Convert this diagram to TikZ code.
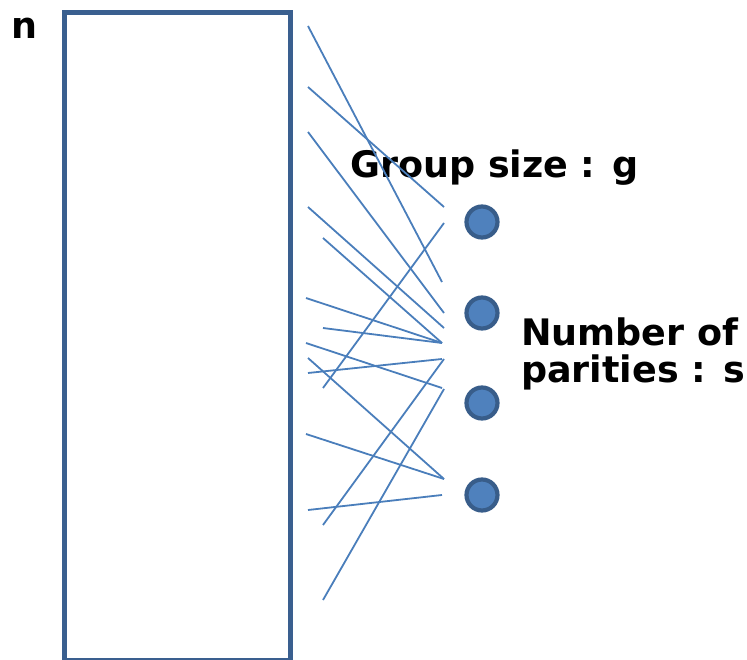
\documentclass[tikz,border=0pt]{standalone}
\usepackage{fontspec}
\setmainfont{DejaVu Sans}
\definecolor{frameblue}{HTML}{3A5F8F}
\definecolor{wireblue}{HTML}{4A7EBB}
\definecolor{dotfill}{HTML}{4F81BD}
\definecolor{dotedge}{HTML}{385D8A}
\begin{document}
\begin{tikzpicture}[x=1pt,y=-1pt,
  label text/.style={inner sep=0pt, anchor=base west,
    font=\fontsize{36.5}{36.5}\selectfont\bfseries},
  parity/.style={circle, draw=dotedge, fill=dotfill, line width=4.2pt,
    minimum size=31pt, inner sep=0pt},
  wire/.style={draw=wireblue, line width=1.8pt},
  frame/.style={draw=frameblue, line width=5pt, inner sep=0pt,
    minimum width=226.5pt, minimum height=648pt}]
\useasboundingbox (0,0) rectangle (747,660);

% the n-bit block
\node[frame] (block) at (177.25,336.5) {};
\node[label text] (nlab) at (11.6,38.3) {n};

% parity nodes
\node[parity] (p1) at (482,222) {};
\node[parity] (p2) at (482,313) {};
\node[parity] (p3) at (482,403) {};
\node[parity] (p4) at (482,495) {};

\node[label text] (glab) at (350,178) {Group size : g};
\node[label text] (slab1) at (521,345) {Number of};
\node[label text] (slab2) at (521,382) {parities : s};

% wire ends on the block side
\coordinate (a1) at (308,26);
\coordinate (a2) at (308,87);
\coordinate (a3) at (308,132);
\coordinate (a4) at (308,207);
\coordinate (a5) at (323,238);
\coordinate (a6) at (306,298);
\coordinate (a7) at (323,328);
\coordinate (a8) at (306,343);
\coordinate (a9) at (308,358);
\coordinate (a10) at (308,373);
\coordinate (a11) at (323,388);
\coordinate (a12) at (323,525);
\coordinate (a13) at (323,600);
\coordinate (a14) at (306,434);
\coordinate (a15) at (308,510);

% wire ends on the parity side
\coordinate (b1) at (442,282);
\coordinate (b2) at (444,207);
\coordinate (b3) at (444,313);
\coordinate (b4) at (444,328);
\coordinate (b5) at (442,343);
\coordinate (b8) at (442,388);
\coordinate (b9) at (444,479);
\coordinate (b10) at (442,359);
\coordinate (b11) at (444,223);
\coordinate (b12) at (444,359);
\coordinate (b13) at (444,389);
\coordinate (b15) at (442,495);

\path[wire] (a1) -- (b1);
\path[wire] (a2) -- (b2);
\path[wire] (a3) -- (b3);
\path[wire] (a4) -- (b4);
\path[wire] (a5) -- (b5);
\path[wire] (a6) -- (b5);
\path[wire] (a7) -- (b5);
\path[wire] (a8) -- (b8);
\path[wire] (a9) -- (b9);
\path[wire] (a10) -- (b10);
\path[wire] (a11) -- (b11);
\path[wire] (a12) -- (b12);
\path[wire] (a13) -- (b13);
\path[wire] (a14) -- (b9);
\path[wire] (a15) -- (b15);
\end{tikzpicture}
\end{document}
